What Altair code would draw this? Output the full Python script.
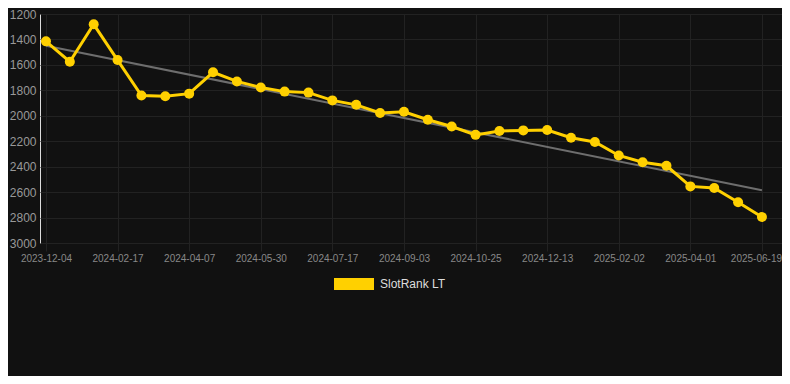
import json
import altair as alt
import pandas as pd

# ---- data ----
x_labels = ["2023-12-04", "2024-02-17", "2024-04-07", "2024-05-30", "2024-07-17",
            "2024-09-03", "2024-10-25", "2024-12-13", "2025-02-02", "2025-04-01",
            "2025-06-19"]
rank_values = [1415, 1575, 1281, 1562, 1841, 1846, 1826, 1658, 1730, 1778,
               1810, 1818, 1879, 1914, 1978, 1968, 2031, 2084, 2150, 2120,
               2115, 2112, 2173, 2206, 2312, 2365, 2393, 2555, 2568, 2680,
               2796]
series_name = "SlotRank LT"
y_ticks = [1200, 1400, 1600, 1800, 2000, 2200, 2400, 2600, 2800, 3000]

LABEL_STEP = 3
tick_idx = [i * LABEL_STEP for i in range(len(x_labels))]
last_tick = tick_idx[-1]

df = pd.DataFrame({
    "idx": list(range(len(rank_values))),
    "rank": rank_values,
    "series": [series_name] * len(rank_values),
})

YELLOW = "#FFD000"
GRID = "#222222"
FONT = "Liberation Sans"

label_expr = json.dumps(x_labels) + f"[round(datum.value/{LABEL_STEP})]"

x_enc = alt.X(
    "idx:Q",
    scale=alt.Scale(domain=[-0.25, 30.84], nice=False, zero=False),
    axis=alt.Axis(values=tick_idx, labelExpr=label_expr, grid=True, gridColor=GRID,
                  domain=False, ticks=True, tickSize=8, tickColor=GRID,
                  labelColor="#888888", labelFontSize=10, labelPadding=2,
                  labelFlush=False, labelOverlap=False, labelBound=False,
                  labelOffset={"expr": f"datum.value == {last_tick} ? -6 : 0"},
                  title=None, labelFont=FONT),
)
y_enc = alt.Y(
    "rank:Q",
    scale=alt.Scale(domain=[1200, 3000], reverse=True, nice=False, zero=False),
    axis=alt.Axis(values=y_ticks, grid=True, gridColor=GRID, domain=False, ticks=False,
                  labelColor="#999999", labelFontSize=12, labelPadding=4,
                  labelFlush=False, labelOverlap=False, title=None, format="d",
                  labelFont=FONT),
)

legend = alt.Legend(
    title=None, orient="none", legendX=294, legendY=250,
    symbolType="M-1,-0.3L1,-0.3L1,0.3L-1,0.3Z", symbolSize=1600,
    symbolFillColor=YELLOW, symbolStrokeColor=YELLOW, symbolStrokeWidth=0,
    symbolOpacity=1, labelColor="#dddddd", labelFontSize=12, labelFont=FONT,
    labelOffset=6, padding=0,
)
color_enc = alt.Color("series:N", scale=alt.Scale(range=[YELLOW]), legend=legend)

base = alt.Chart(df)

trend = base.transform_regression("idx", "rank").mark_line(
    color="#6e6e6e", strokeWidth=2
).encode(x=x_enc, y=y_enc)

line = base.mark_line(strokeWidth=3).encode(x=x_enc, y=y_enc, color=color_enc)
points = base.mark_circle(size=100, opacity=1).encode(x=x_enc, y=y_enc, color=color_enc)

chart = alt.layer(trend, line, points).properties(
    width=742, height=229,
    padding={"left": 32, "top": 6, "right": 0, "bottom": 133},
    autosize=alt.AutoSizeParams(type="none"),
    background="#111111",
).configure_view(stroke=None).configure(font=FONT)

chart.save("out.html", embed_options={"renderer": "svg", "actions": False})
